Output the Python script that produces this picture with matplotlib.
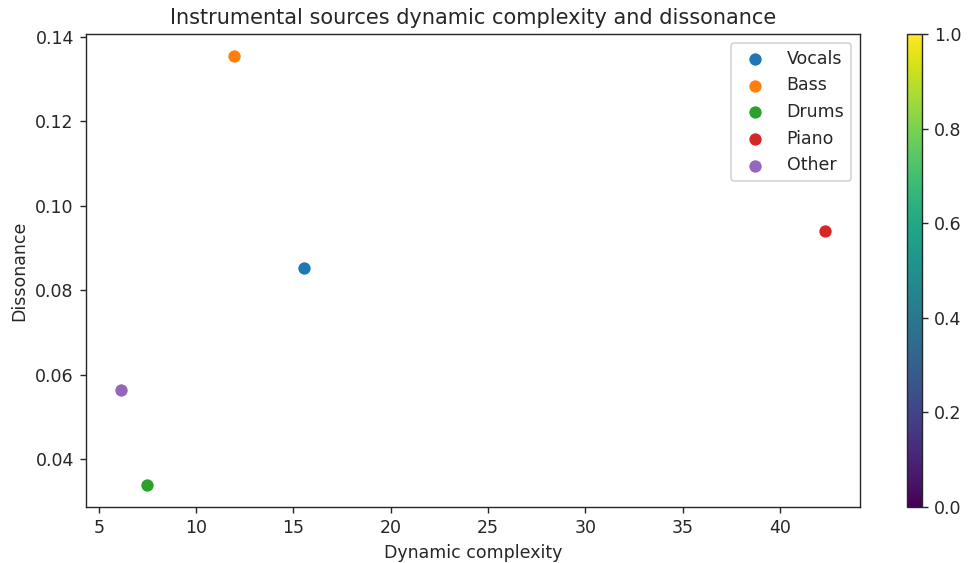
import numpy as np
import matplotlib
matplotlib.use('Agg')
import matplotlib.pyplot as plt

# instrument sources
sources = ['Vocals', 'Bass', 'Drums', 'Piano', 'Other']
dyn_complexity = [15.56, 11.97, 7.48, 42.3, 6.15]
dissonance = [0.0853, 0.1355, 0.0338, 0.0940, 0.0565]
colors = ['#1f77b4', '#ff7f0e', '#2ca02c', '#d62728', '#9467bd']

# dark grey text and frame
for k in ['text.color', 'axes.labelcolor', 'xtick.color', 'ytick.color', 'axes.edgecolor']:
    plt.rcParams[k] = '.15'

fig = plt.figure(figsize=(973/125, 563/125), dpi=125)
ax = fig.add_axes([0.0884, 0.0995, 0.7955, 0.840])
cax = fig.add_axes([0.9322, 0.0995, 0.0154, 0.840])

for i in range(len(sources)):
    ax.scatter(dyn_complexity[i], dissonance[i], s=62, color=colors[i],
               edgecolor='white', linewidth=0.75, label=sources[i])

ax.set_xlabel('Dynamic complexity')
ax.set_ylabel('Dissonance')
ax.set_title('Instrumental sources dynamic complexity and dissonance')
ax.legend(loc='upper right')

sm = plt.cm.ScalarMappable(cmap='viridis')
fig.colorbar(sm, cax=cax)

plt.savefig('out.png', dpi=125)
